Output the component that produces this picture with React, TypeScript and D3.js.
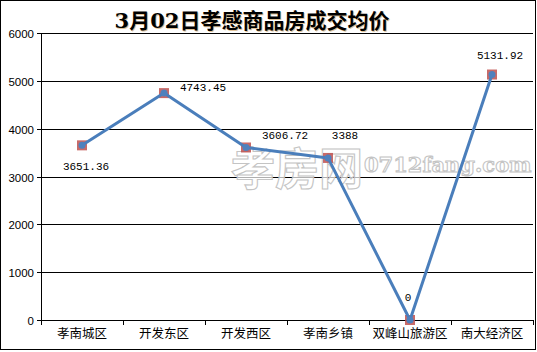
import React from "react";
import * as d3 from "d3";

const categories = ["孝南城区", "开发东区", "开发西区", "孝南乡镇", "双峰山旅游区", "南大经济区"];
const values = [3651.36, 4743.45, 3606.72, 3388, 0, 5131.92];
const valueLabels = ["3651.36", "4743.45", "3606.72", "3388", "0", "5131.92"];
const yTicks = [0, 1000, 2000, 3000, 4000, 5000, 6000];
const title = "3月02日孝感商品房成交均价";

// label placement offsets (layout, px relative to point)
const labelOffsets: [number, number][] = [
  [4, 21],
  [39, -6],
  [39, -12],
  [17, -23],
  [-2, -23],
  [8, -20],
];

const W = 537;
const H = 352;
const left = 41;
const right = 533;
const top = 33;
const bottom = 320;

export default function App() {
  const x = d3.scaleBand<string>().domain(categories).range([left, right]);
  const y = d3.scaleLinear().domain([0, 6000]).range([bottom, top]);
  const cx = (c: string) => (x(c) as number) + x.bandwidth() / 2;
  const pts: [number, number][] = categories.map((c, i) => [cx(c), y(values[i])]);
  const line = d3.line<[number, number]>().x((d) => d[0]).y((d) => d[1]);
  const boundaries = categories.map((c) => x(c) as number).concat([right]);

  return (
    <div style={{ position: "absolute", left: 0, top: 0 }}>
      <svg width={W} height={H} style={{ display: "block", background: "#fff" }}>
        <rect x={0.5} y={0.5} width={535} height={349} fill="#fff" stroke="#000" strokeWidth={1} />
        {/* gridlines */}
        {yTicks.map((t) => (
          <g key={t}>
            <line x1={left} x2={right} y1={Math.round(y(t)) + 0.5} y2={Math.round(y(t)) + 0.5} stroke="#000" strokeWidth={1} />
            <line x1={left - 4} x2={left} y1={Math.round(y(t)) + 0.5} y2={Math.round(y(t)) + 0.5} stroke="#000" strokeWidth={1} />
            <text
              x={34}
              y={Math.round(y(t)) + 4.5}
              textAnchor="end"
              fontFamily="'Liberation Sans', Arial, sans-serif"
              fontSize={11.5}
              fill="#000"
            >
              {t}
            </text>
          </g>
        ))}
        {/* y axis */}
        <line x1={left + 0.5} x2={left + 0.5} y1={top} y2={bottom + 4} stroke="#000" strokeWidth={1} />
        {/* x ticks */}
        {boundaries.map((b, i) => (
          <line key={i} x1={Math.round(b) + 0.5} x2={Math.round(b) + 0.5} y1={bottom} y2={bottom + 5} stroke="#000" strokeWidth={1} />
        ))}
        {/* category labels */}
        {categories.map((c) => (
          <text
            key={c}
            x={cx(c)}
            y={338}
            textAnchor="middle"
            fontFamily="'Noto Sans CJK SC', sans-serif"
            fontSize={12.5}
            fill="#000"
          >
            {c}
          </text>
        ))}
        {/* watermark */}
        <g fill="#fff" fillOpacity={0.7} stroke="#c4c4c4" strokeWidth={1.1}>
          <text x={231} y={185} fontFamily="'Noto Sans CJK SC', sans-serif" fontWeight="bold" fontSize={44}>
            孝房网
          </text>
          <text x={364} y={172} fontFamily="'DejaVu Serif', serif" fontWeight="bold" fontSize={21}>
            0712fang.com
          </text>
        </g>
        {/* title */}
        <text
          x={253}
          y={29}
          textAnchor="middle"
          fontFamily="'DejaVu Serif', 'Noto Sans CJK SC', serif"
          fontWeight="bold"
          fontSize={21}
          fill="#c89850"
          fillOpacity={0.6}
        >
          {title}
        </text>
        <text
          x={252}
          y={28}
          textAnchor="middle"
          fontFamily="'DejaVu Serif', 'Noto Sans CJK SC', serif"
          fontWeight="bold"
          fontSize={21}
          fill="#000"
        >
          {title}
        </text>
        {/* markers */}
        {pts.map((p, i) => (
          <rect key={i} x={p[0] - 5} y={p[1] - 5} width={10} height={10} fill="#c0504d" fillOpacity={0.85} />
        ))}
        {/* line */}
        <path d={line(pts) || ""} fill="none" stroke="#4a7ebb" strokeWidth={3} strokeLinejoin="round" strokeLinecap="round" />
        {pts.map((p, i) => (
          <circle key={i} cx={p[0]} cy={p[1]} r={3.5} fill="#4f81bd" />
        ))}
        {/* data labels */}
        {pts.map((p, i) => (
          <text
            key={i}
            x={p[0] + labelOffsets[i][0]}
            y={p[1] + labelOffsets[i][1] + 4}
            textAnchor="middle"
            fontFamily="'Liberation Mono', monospace"
            fontSize={11}
            fill="#000"
          >
            {valueLabels[i]}
          </text>
        ))}
      </svg>
    </div>
  );
}
